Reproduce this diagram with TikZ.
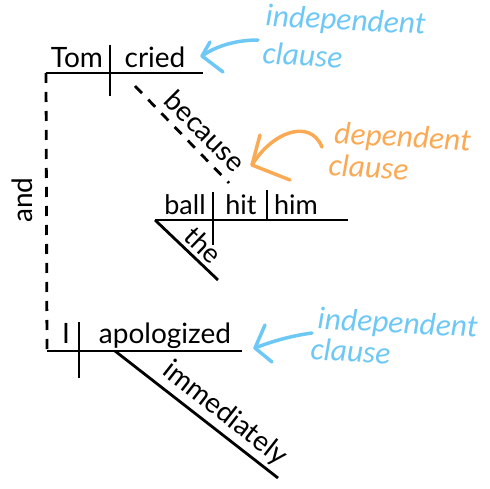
\documentclass[tikz,border=0pt]{standalone}
\usepackage{fontspec}
\setmainfont{Lato}
\newfontfamily\notefont[ItalicFont={Carlito Italic}]{Carlito}
\definecolor{noteblue}{RGB}{110,200,245}
\definecolor{noteorange}{RGB}{250,170,85}
\begin{document}
\begin{tikzpicture}[x=1pt,y=-1pt,
  diag/.style={line width=2.8pt},
  dashline/.style={line width=2.8pt,dash pattern=on 10pt off 9pt},
  word/.style={inner sep=0pt,anchor=base,font=\fontsize{28}{32}\selectfont},
  smallword/.style={inner sep=0pt,anchor=base,font=\fontsize{27}{31}\selectfont},
  note/.style={inner sep=0pt,anchor=base,font=\notefont\itshape\fontsize{31.5}{36}\selectfont},
  arr/.style={line width=3.5pt,line cap=round,line join=round}]
\useasboundingbox (0,0) rectangle (490,489);
% main clause 1
\coordinate (t1) at (46,73);
\coordinate (t2) at (203,73);
\coordinate (d1a) at (110,45);
\coordinate (d1b) at (110,96);
\draw[diag] (t1) -- (t2);
\draw[diag] (d1a) -- (d1b);
\node[word] (tom) at (77,68) {Tom};
\node[word] (cried) at (155,68) {cried};
% and
\coordinate (b1) at (47,351);
\draw[dashline] (t1) -- (b1);
\node[word,rotate=90] (and) at (32,200) {and};
% because
\coordinate (bc1) at (135,86);
\coordinate (bc2) at (229,183);
\draw[dashline] (bc1) -- (bc2);
\node[word,rotate=-45] (because) at (198,138) {because};
% dependent clause
\coordinate (s1) at (155,220);
\coordinate (s2) at (348,220);
\draw[diag] (s1) -- (s2);
\coordinate (h1) at (213,192);
\coordinate (h2) at (213,245);
\draw[diag] (h1) -- (h2);
\coordinate (m1) at (267,190);
\coordinate (m2) at (267,220);
\draw[diag] (m1) -- (m2);
\node[smallword] (ball) at (185,215) {ball};
\node[smallword] (hit) at (241,215) {hit};
\node[smallword] (him) at (296,215) {him};
\coordinate (th) at (218,280);
\draw[diag] (s1) -- (th);
\node[smallword,rotate=-44] (the) at (197,252) {the};
% main clause 2
\coordinate (b2) at (242,351);
\draw[diag] (b1) -- (b2);
\coordinate (d2a) at (79,322);
\coordinate (d2b) at (79,378);
\draw[diag] (d2a) -- (d2b);
\node[word] (I) at (66,343) {I};
\node[word] (apol) at (165,343) {apologized};
\coordinate (im1) at (115,351);
\coordinate (im2) at (278,478);
\draw[diag] (im1) -- (im2);
\node[word,rotate=-38] (immed) at (220,420) {immediately};
% notes
\node[note,text=noteblue,rotate=-3] (ind1) at (345,30) {independent};
\node[note,text=noteblue,rotate=-3] (cl1) at (302,66) {clause};
\node[note,text=noteorange,rotate=-3] (dep) at (402,147) {dependent};
\node[note,text=noteorange,rotate=-3] (cl2) at (368,178) {clause};
\node[note,text=noteblue,rotate=-3] (ind2) at (397,333) {independent};
\node[note,text=noteblue,rotate=-3] (cl3) at (350,362) {clause};
% arrows
\coordinate (a1s) at (258,40);
\coordinate (a1t) at (202,56);
\draw[arr,noteblue] (a1s) .. controls (236,40) and (216,46) .. (a1t);
\draw[arr,noteblue] (210,42) -- (a1t) -- (223,72);
\coordinate (a2s) at (322,147);
\coordinate (a2t) at (252,165);
\draw[arr,noteorange] (a2t) .. controls (272,132) and (310,118) .. (a2s);
\draw[arr,noteorange] (260,135) -- (a2t) -- (290,180);
\coordinate (a3s) at (312,333);
\coordinate (a3t) at (255,348);
\draw[arr,noteblue] (a3s) .. controls (290,336) and (270,342) .. (a3t);
\draw[arr,noteblue] (265,325) -- (a3t) -- (272,362);
\end{tikzpicture}
\end{document}
